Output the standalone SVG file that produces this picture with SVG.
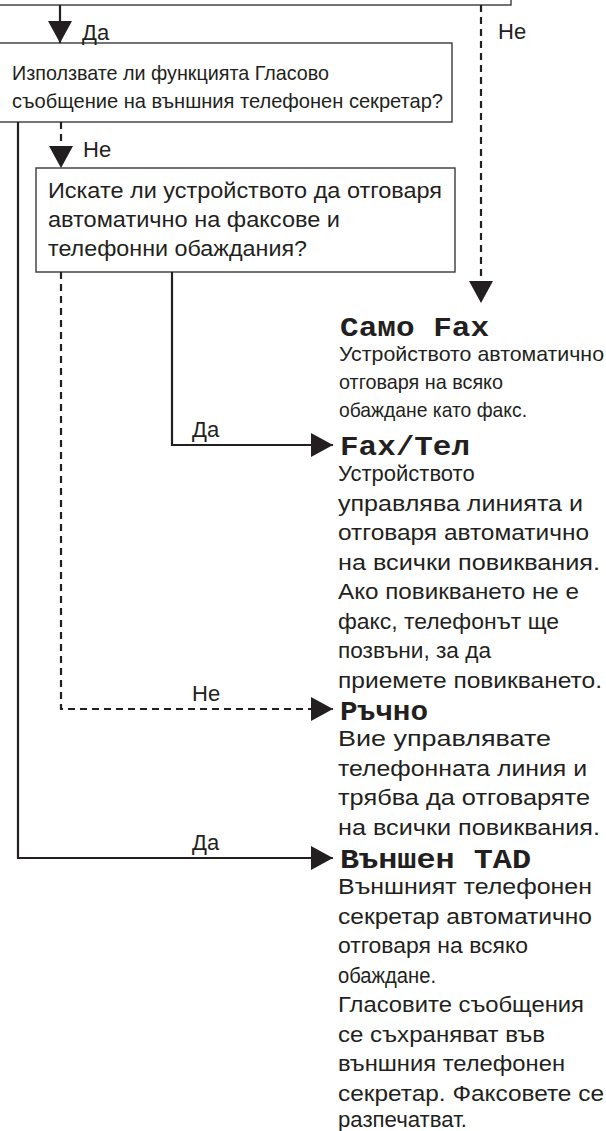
<svg xmlns="http://www.w3.org/2000/svg" width="606" height="1131" viewBox="0 0 606 1131">
<style>
.box{fill:#fff;stroke:#3a3a3a;stroke-width:1.4}
.ln{fill:none;stroke:#231f20;stroke-width:2.2}
.dash{fill:none;stroke:#231f20;stroke-width:2.2;stroke-dasharray:7 5}
.t{font-family:"Liberation Sans",Arial,sans-serif;fill:#231f20}
.q{font-size:21px}
.q2{font-size:22px}
.lb{font-size:22px}
.b{font-size:22px}
.h{font-family:"Courier New","Liberation Mono",monospace;font-weight:bold;font-size:28px;fill:#231f20}
</style>
<defs>
<marker id="ad" markerWidth="24" markerHeight="24" refX="22" refY="12" orient="auto" markerUnits="userSpaceOnUse" viewBox="0 0 24 24">
<path d="M0,0 L22,12 L0,24 Z" fill="#231f20"/>
</marker>
</defs>
<g id="top-box"><rect class="box" x="-5" y="-40" width="516" height="45"/></g>
<g id="q1">
<rect class="box" x="-5" y="43" width="457" height="79"/>
<text class="t q" x="12" y="80" textLength="317" lengthAdjust="spacingAndGlyphs">Използвате ли функцията Гласово</text>
<text class="t q" x="12" y="108" textLength="431" lengthAdjust="spacingAndGlyphs">съобщение на външния телефонен секретар?</text>
</g>
<g id="q2">
<rect class="box" x="36" y="168" width="419" height="104"/>
<text class="t q2" x="48" y="198" textLength="394" lengthAdjust="spacingAndGlyphs">Искате ли устройството да отговаря</text>
<text class="t q2" x="48" y="227" textLength="292" lengthAdjust="spacingAndGlyphs">автоматично на факсове и</text>
<text class="t q2" x="48" y="256" textLength="259" lengthAdjust="spacingAndGlyphs">телефонни обаждания?</text>
</g>
<g id="connectors">
<path class="ln" d="M60,5 V43" marker-end="url(#ad)"/>
<text class="t lb" x="82" y="40">Да</text>
<path class="dash" d="M481,5 V303" marker-end="url(#ad)"/>
<text class="t lb" x="498" y="39">Не</text>
<path class="dash" d="M61,122 V168" marker-end="url(#ad)"/>
<text class="t lb" x="83" y="157">Не</text>
<path class="ln" d="M172,272 V445 H333" marker-end="url(#ad)"/>
<text class="t lb" x="192" y="437">Да</text>
<path class="dash" d="M61,272 V709 H333" marker-end="url(#ad)"/>
<text class="t lb" x="192" y="701">Не</text>
<path class="ln" d="M18,122 V858 H333" marker-end="url(#ad)"/>
<text class="t lb" x="192" y="850">Да</text>
</g>
<g id="fax-only">
<text class="h" x="340" y="336" textLength="149" lengthAdjust="spacingAndGlyphs">Само Fax</text>
<text class="t q" x="339" y="361" textLength="265" lengthAdjust="spacingAndGlyphs">Устройството автоматично</text>
<text class="t q" x="339" y="389" textLength="164" lengthAdjust="spacingAndGlyphs">отговаря на всяко</text>
<text class="t q" x="339" y="417" textLength="188" lengthAdjust="spacingAndGlyphs">обаждане като факс.</text>
</g>
<g id="fax-tel">
<text class="h" x="340" y="455" textLength="130" lengthAdjust="spacingAndGlyphs">Fax/Тел</text>
<text class="t b" x="338" y="481">Устройството</text>
<text class="t b" x="338" y="511" textLength="245" lengthAdjust="spacingAndGlyphs">управлява линията и</text>
<text class="t b" x="338" y="540" textLength="251" lengthAdjust="spacingAndGlyphs">отговаря автоматично</text>
<text class="t b" x="338" y="570" textLength="262" lengthAdjust="spacingAndGlyphs">на всички повиквания.</text>
<text class="t b" x="338" y="599" textLength="241" lengthAdjust="spacingAndGlyphs">Ако повикването не е</text>
<text class="t b" x="338" y="629" textLength="221" lengthAdjust="spacingAndGlyphs">факс, телефонът ще</text>
<text class="t b" x="338" y="658" textLength="153" lengthAdjust="spacingAndGlyphs">позвъни, за да</text>
<text class="t b" x="338" y="688" textLength="264" lengthAdjust="spacingAndGlyphs">приемете повикването.</text>
</g>
<g id="manual">
<text class="h" x="340" y="720" textLength="88" lengthAdjust="spacingAndGlyphs">Ръчно</text>
<text class="t b" x="338" y="746" textLength="213" lengthAdjust="spacingAndGlyphs">Вие управлявате</text>
<text class="t b" x="338" y="776" textLength="249" lengthAdjust="spacingAndGlyphs">телефонната линия и</text>
<text class="t b" x="338" y="805" textLength="252" lengthAdjust="spacingAndGlyphs">трябва да отговаряте</text>
<text class="t b" x="338" y="835" textLength="262" lengthAdjust="spacingAndGlyphs">на всички повиквания.</text>
</g>
<g id="ext-tad">
<text class="h" x="340" y="868" textLength="191" lengthAdjust="spacingAndGlyphs">Външен TAD</text>
<text class="t b" x="338" y="894" textLength="254" lengthAdjust="spacingAndGlyphs">Външният телефонен</text>
<text class="t b" x="338" y="924" textLength="254" lengthAdjust="spacingAndGlyphs">секретар автоматично</text>
<text class="t b" x="338" y="953" textLength="190" lengthAdjust="spacingAndGlyphs">отговаря на всяко</text>
<text class="t b" x="338" y="983" textLength="98" lengthAdjust="spacingAndGlyphs">обаждане.</text>
<text class="t b" x="338" y="1012" textLength="246" lengthAdjust="spacingAndGlyphs">Гласовите съобщения</text>
<text class="t b" x="338" y="1042" textLength="207" lengthAdjust="spacingAndGlyphs">се съхраняват във</text>
<text class="t b" x="338" y="1071" textLength="227" lengthAdjust="spacingAndGlyphs">външния телефонен</text>
<text class="t b" x="338" y="1101" textLength="266" lengthAdjust="spacingAndGlyphs">секретар. Факсовете се</text>
<text class="t b" x="338" y="1127" textLength="129" lengthAdjust="spacingAndGlyphs">разпечатват.</text>
</g>
</svg>
